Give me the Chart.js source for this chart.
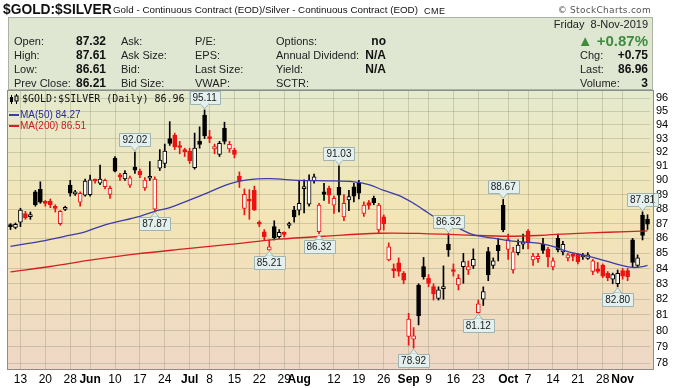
<!DOCTYPE html>
<html><head><meta charset="utf-8">
<script src="https://cdn.jsdelivr.net/npm/chart.js@4.4.1/dist/chart.umd.min.js"></script>
<style>
html,body{margin:0;padding:0;background:#fff;}
#wrap{position:relative;width:675px;height:388px;overflow:hidden;font-family:"Liberation Sans",Arial,sans-serif;}
#c{position:absolute;left:0;top:0;}
.t{position:absolute;white-space:nowrap;line-height:12px;}
.l{font-size:11px;color:#222;}
.v{font-size:12px;font-weight:bold;color:#111;}
#box{position:absolute;left:8px;top:17px;width:643px;height:71px;background:#dfe7d3;border:1px solid #aab3a2;}
.lg{position:absolute;white-space:nowrap;line-height:11px;}
</style></head><body>
<div id="wrap">
<canvas id="c" width="675" height="388"></canvas>
<div class="t" style="left:3px;top:2px;font-size:13.8px;font-weight:bold;line-height:16px;color:#111;">$GOLD:$SILVER</div>
<div class="t" style="left:113px;top:4px;font-size:9.8px;color:#111;">Gold - Continuous Contract (EOD)/Silver - Continuous Contract (EOD)</div>
<div class="t" style="left:424px;top:5px;font-size:9px;letter-spacing:0.5px;color:#111;">CME</div>
<div class="t" style="right:24px;top:4px;font-size:9px;letter-spacing:0.3px;color:#555;font-family:'DejaVu Sans',sans-serif;">© StockCharts.com</div>
<div id="box"></div>
<div class="t l" style="left:14px;top:35px;">Open:</div>
<div class="t l" style="left:14px;top:49px;">High:</div>
<div class="t l" style="left:14px;top:63px;">Low:</div>
<div class="t l" style="left:14px;top:77px;">Prev Close:</div>
<div class="t v" style="right:569px;top:35px;">87.32</div>
<div class="t v" style="right:569px;top:49px;">87.61</div>
<div class="t v" style="right:569px;top:63px;">86.61</div>
<div class="t v" style="right:569px;top:77px;">86.21</div>
<div class="t l" style="left:121px;top:35px;">Ask:</div>
<div class="t l" style="left:121px;top:49px;">Ask Size:</div>
<div class="t l" style="left:121px;top:63px;">Bid:</div>
<div class="t l" style="left:121px;top:77px;">Bid Size:</div>
<div class="t l" style="left:195px;top:35px;">P/E:</div>
<div class="t l" style="left:195px;top:49px;">EPS:</div>
<div class="t l" style="left:195px;top:63px;">Last Size:</div>
<div class="t l" style="left:195px;top:77px;">VWAP:</div>
<div class="t l" style="left:276px;top:35px;">Options:</div>
<div class="t l" style="left:276px;top:49px;">Annual Dividend:</div>
<div class="t l" style="left:276px;top:63px;">Yield:</div>
<div class="t l" style="left:276px;top:77px;">SCTR:</div>
<div class="t v" style="right:289px;top:35px;">no</div>
<div class="t v" style="right:289px;top:49px;">N/A</div>
<div class="t v" style="right:289px;top:63px;">N/A</div>
<div class="t l" style="right:27px;top:18px;">Friday&nbsp; 8-Nov-2019</div>
<div class="t" style="right:27px;top:33px;font-size:15px;line-height:15px;font-weight:bold;color:#3d8b3d;">▲ +0.87%</div>
<div class="t l" style="left:580px;top:49px;">Chg:</div>
<div class="t l" style="left:580px;top:63px;">Last:</div>
<div class="t l" style="left:580px;top:77px;">Volume:</div>
<div class="t v" style="right:27px;top:49px;">+0.75</div>
<div class="t v" style="right:27px;top:63px;">86.96</div>
<div class="t v" style="right:27px;top:77px;">3</div>
<svg style="position:absolute;left:9px;top:94px;" width="12" height="10" viewBox="0 0 12 10">
<rect x="1" y="3" width="3" height="5" fill="#000"/><rect x="2" y="1" width="1" height="9" fill="#000"/>
<rect x="6" y="2" width="3" height="5" fill="none" stroke="#000" stroke-width="1"/><rect x="7" y="0" width="1" height="2" fill="#000"/><rect x="7" y="7" width="1" height="3" fill="#000"/>
</svg>
<div class="lg" id="lg0" style="left:22px;top:93px;font-size:10px;color:#111;font-family:'DejaVu Sans Mono',monospace;"></div>
<div style="position:absolute;left:9px;top:114px;width:10px;height:2px;background:#3c3ca8;"></div>
<div class="lg" id="lg1" style="left:20px;top:109px;font-size:10px;color:#2a2a9a;"></div>
<div style="position:absolute;left:9px;top:125px;width:10px;height:2px;background:#d42020;"></div>
<div class="lg" id="lg2" style="left:20px;top:120px;font-size:10px;color:#c81e1e;"></div>
</div>
<script>
// ---- categories (trading days) ----
const dates = [
'2019-05-09','2019-05-10','2019-05-13','2019-05-14','2019-05-15','2019-05-16','2019-05-17','2019-05-20','2019-05-21','2019-05-22','2019-05-23','2019-05-24','2019-05-28','2019-05-29','2019-05-30','2019-05-31',
'2019-06-03','2019-06-04','2019-06-05','2019-06-06','2019-06-07','2019-06-10','2019-06-11','2019-06-12','2019-06-13','2019-06-14','2019-06-17','2019-06-18','2019-06-19','2019-06-20','2019-06-21','2019-06-24','2019-06-25','2019-06-26','2019-06-27','2019-06-28',
'2019-07-01','2019-07-02','2019-07-03','2019-07-05','2019-07-08','2019-07-09','2019-07-10','2019-07-11','2019-07-12','2019-07-15','2019-07-16','2019-07-17','2019-07-18','2019-07-19','2019-07-22','2019-07-23','2019-07-24','2019-07-25','2019-07-26','2019-07-29','2019-07-30','2019-07-31',
'2019-08-01','2019-08-02','2019-08-05','2019-08-06','2019-08-07','2019-08-08','2019-08-09','2019-08-12','2019-08-13','2019-08-14','2019-08-15','2019-08-16','2019-08-19','2019-08-20','2019-08-21','2019-08-22','2019-08-23','2019-08-26','2019-08-27','2019-08-28','2019-08-29','2019-08-30',
'2019-09-03','2019-09-04','2019-09-05','2019-09-06','2019-09-09','2019-09-10','2019-09-11','2019-09-12','2019-09-13','2019-09-16','2019-09-17','2019-09-18','2019-09-19','2019-09-20','2019-09-23','2019-09-24','2019-09-25','2019-09-26','2019-09-27','2019-09-30',
'2019-10-01','2019-10-02','2019-10-03','2019-10-04','2019-10-07','2019-10-08','2019-10-09','2019-10-10','2019-10-11','2019-10-14','2019-10-15','2019-10-16','2019-10-17','2019-10-18','2019-10-21','2019-10-22','2019-10-23','2019-10-24','2019-10-25','2019-10-28','2019-10-29','2019-10-30','2019-10-31',
'2019-11-01','2019-11-04','2019-11-05','2019-11-06','2019-11-07','2019-11-08'];

// ---- OHLC values ----
const open = [
86.85,86.75,87.1,87.7,87.48,89.2,89.37,88.45,88.56,88.1,87.0,87.98,89.67,89.05,88.48,88.97,
89.0,90.0,89.8,89.56,89.02,91.57,90.3,90.1,89.67,90.94,90.66,89.48,90.15,88.0,90.86,91.2,93.0,93.26,92.4,92.1,
92.1,90.9,92.82,94.73,93.05,92.25,91.86,93.74,92.25,92.17,90.31,88.05,88.62,89.3,87.0,86.45,85.23,86.8,86.12,86.32,86.88,87.93,
87.93,89.42,88.34,89.96,86.45,89.2,89.44,88.28,89.51,87.47,88.63,89.55,89.83,87.7,88.45,88.74,86.57,87.47,84.56,84.0,84.38,83.68,
79.64,79.47,82.92,84.12,83.35,82.81,82.06,82.68,85.62,83.85,82.92,84.12,83.9,84.17,81.14,82.0,85.12,84.2,85.56,88.28,
85.27,83.9,85.05,85.62,86.5,84.56,84.65,85.6,85.27,84.1,86.0,85.1,84.7,84.88,84.93,84.76,84.67,83.8,83.97,84.23,83.68,83.3,83.0,
83.86,83.86,85.9,84.2,87.59,87.32];
const high = [
87.0,87.05,88.06,87.85,87.8,89.3,89.9,88.6,88.7,88.3,87.9,88.2,90.0,89.3,89.2,90.1,
90.38,90.1,91.09,90.1,89.6,91.7,90.5,90.7,90.3,92.02,90.8,90.2,91.33,90.25,92.2,92.6,94.24,93.4,92.8,92.3,
92.3,93.4,93.86,95.11,93.6,92.6,92.8,94.2,92.8,92.3,90.6,89.4,89.35,89.6,87.2,86.6,85.9,87.2,86.6,86.45,87.1,88.2,
90.0,90.05,90.4,90.45,88.4,89.8,89.6,88.9,91.03,89.0,89.3,89.8,90.0,88.5,88.6,88.9,88.4,87.6,85.7,84.3,84.7,83.8,
81.1,80.2,83.0,84.73,83.6,83.0,82.8,84.17,86.32,84.3,83.6,85.0,84.5,85.3,81.95,82.8,85.4,84.7,86.0,88.67,
86.3,85.4,85.9,86.3,86.6,85.0,85.0,86.0,85.4,84.7,86.3,85.8,85.0,85.0,85.0,85.0,85.05,84.6,84.4,84.3,83.8,83.7,83.9,
84.0,84.0,86.0,84.9,87.81,87.61];
const low = [
86.6,86.65,86.8,87.3,87.3,88.2,88.4,88.2,88.1,87.8,86.9,87.9,88.9,88.95,88.2,88.9,
88.9,89.8,89.7,89.4,88.74,90.6,90.0,90.0,89.5,90.5,90.2,89.3,90.0,87.87,90.7,90.9,92.5,92.2,91.9,91.7,
91.2,90.8,92.3,93.0,92.7,91.9,91.7,92.6,92.0,91.6,89.5,87.6,87.3,87.9,86.8,85.9,85.21,85.9,86.0,86.1,86.7,87.1,
87.6,87.73,88.2,89.8,86.32,88.6,88.4,87.7,87.8,87.2,87.9,88.5,88.7,87.5,88.0,88.3,86.4,86.57,84.5,83.4,83.5,83.0,
79.1,78.92,80.37,83.3,82.8,81.95,81.95,82.0,84.8,83.5,82.6,83.03,83.6,84.0,81.12,81.6,83.2,84.0,84.5,86.45,
84.6,83.7,84.9,85.3,85.3,84.2,84.4,85.0,84.1,83.9,85.1,84.9,84.5,84.5,84.3,84.6,84.6,83.6,83.7,83.4,83.2,83.0,82.8,
83.3,83.2,84.1,84.1,85.9,86.61];
const close = [
86.8,86.95,87.93,87.4,87.55,88.3,88.48,88.4,88.3,88.05,87.84,88.05,89.1,89.2,89.09,89.96,
90.05,89.96,90.1,90.0,89.44,90.65,90.25,90.5,90.19,90.73,90.38,90.03,90.2,90.1,91.45,92.1,92.65,92.4,92.35,92.05,
91.4,92.3,92.58,93.2,93.0,92.42,92.65,92.8,92.58,91.86,89.96,89.02,88.55,87.95,86.96,86.12,85.44,86.05,86.41,86.28,86.93,87.47,
88.4,89.48,90.03,90.26,88.28,89.02,88.97,88.74,88.97,88.4,88.86,88.9,89.1,88.28,88.25,88.45,88.28,87.0,85.44,83.85,83.8,83.24,
80.73,79.68,80.94,83.46,83.03,82.34,82.6,82.81,85.23,83.8,83.35,84.45,84.12,84.6,81.7,82.5,83.57,84.5,85.18,86.57,
85.93,85.1,85.56,85.77,85.7,84.82,84.8,85.2,84.74,84.5,85.23,85.6,84.9,84.8,84.45,84.82,84.9,84.5,83.8,83.5,83.4,83.6,83.68,
83.5,83.46,84.4,84.7,86.21,86.96];

// ---- moving averages (sparse readings) ----
const ma50Dates = ['2019-05-09','2019-05-17','2019-05-28','2019-05-31','2019-06-06','2019-06-17','2019-06-20','2019-06-25','2019-07-03','2019-07-12','2019-07-18','2019-07-24','2019-08-01','2019-08-09','2019-08-16','2019-08-21','2019-08-26','2019-08-29','2019-09-04','2019-09-06','2019-09-11','2019-09-17','2019-09-20','2019-09-26','2019-10-02','2019-10-09','2019-10-14','2019-10-17','2019-10-22','2019-10-28','2019-10-31','2019-11-05','2019-11-07','2019-11-08'];
const ma50 = [85.47,85.8,86.22,86.45,86.92,87.5,87.85,88.1,88.9,89.75,90.05,90.12,90.0,89.97,89.9,89.7,89.3,88.95,88.4,87.95,87.3,86.7,86.25,86.02,85.82,85.68,85.46,85.12,84.9,84.56,84.27,84.07,84.12,84.2];
const ma50Last = 84.27;
const ma200Dates = ['2019-05-09','2019-05-21','2019-06-03','2019-06-14','2019-06-28','2019-07-12','2019-07-26','2019-08-08','2019-08-23','2019-09-06','2019-09-19','2019-10-01','2019-10-09','2019-10-18','2019-10-29','2019-11-08'];
const ma200 = [83.78,84.13,84.55,84.95,85.3,85.6,85.95,86.15,86.35,86.33,86.22,86.15,86.2,86.33,86.42,86.51];
const ma200Last = 86.51;

// ---- axis ticks ----
const tickDates = ['2019-05-13','2019-05-20','2019-05-28','2019-06-03','2019-06-10','2019-06-17','2019-06-24','2019-07-01','2019-07-08','2019-07-15','2019-07-22','2019-07-29','2019-08-01','2019-08-12','2019-08-19','2019-08-26','2019-09-03','2019-09-09','2019-09-16','2019-09-23','2019-10-01','2019-10-07','2019-10-14','2019-10-21','2019-10-28','2019-11-01'];
const tickLabels = ['13','20','28','Jun','10','17','24','Jul','8','15','22','29','Aug','12','19','26','Sep','9','16','23','Oct','7','14','21','28','Nov'];
const monthLabels = ['Jun','Jul','Aug','Sep','Oct','Nov'];
const yTicks = [78,79,80,81,82,83,84,85,86,87,88,89,90,91,92,93,94,95,96];

// ---- labelled extremes ----
const callouts = [['2019-06-14','high'],['2019-06-20','low'],['2019-07-05','high'],['2019-07-24','low'],['2019-08-07','low'],['2019-08-13','high'],['2019-09-04','low'],['2019-09-13','high'],['2019-09-23','low'],['2019-09-30','high'],['2019-10-31','low'],['2019-11-07','high']];

document.getElementById('lg0').textContent = '$GOLD:$SILVER (Daily) ' + close[close.length-1].toFixed(2);
document.getElementById('lg1').textContent = 'MA(50) ' + ma50Last.toFixed(2);
document.getElementById('lg2').textContent = 'MA(200) ' + ma200Last.toFixed(2);

const BLACK = '#000000', RED = '#ee1111', HOLLOW = '#fdfcf4';
const upColor = dates.map((d,i)=> (i===0 || close[i] >= close[i-1]) ? BLACK : RED);
const bodyFill = dates.map((d,i)=> close[i] > open[i] ? HOLLOW : upColor[i]);

const tickIdx = tickDates.map(d=>dates.indexOf(d));
const tickMap = {}; tickIdx.forEach((ix,k)=>{ tickMap[ix] = tickLabels[k]; });
const gridCol = 'rgba(140,140,110,0.33)';
const FONT = '"Liberation Sans", Arial, sans-serif';

const bgPlugin = {
  id:'bg',
  beforeDraw(chart){
    const {ctx, chartArea:a} = chart;
    const g = ctx.createLinearGradient(0,a.top,0,a.bottom);
    g.addColorStop(0,'#e5eace'); g.addColorStop(0.45,'#f3e5b6'); g.addColorStop(1,'#eed7c6');
    ctx.save(); ctx.fillStyle = g; ctx.fillRect(a.left, a.top, a.right-a.left+3, a.bottom-a.top); ctx.restore();
  },
  afterDraw(chart){
    const {ctx, chartArea:a} = chart;
    ctx.save(); ctx.strokeStyle = '#8c8c8c'; ctx.lineWidth = 1;
    ctx.strokeRect(Math.round(a.left)-0.5, Math.round(a.top)-0.5, Math.round(a.right-a.left)+4, Math.round(a.bottom-a.top)+1);
    ctx.restore();
  }
};

const calloutPlugin = {
  id:'callouts',
  afterDatasetsDraw(chart){
    const {ctx} = chart; const xs = chart.scales.x, ys = chart.scales.y;
    ctx.save();
    ctx.font = '10px ' + FONT; ctx.textAlign='center'; ctx.textBaseline='middle';
    callouts.forEach(([d,kind])=>{
      const i = dates.indexOf(d); const v = kind==='high' ? high[i] : low[i];
      const x = xs.getPixelForValue(i), y = ys.getPixelForValue(v);
      const txt = v.toFixed(2); const w = Math.round(ctx.measureText(txt).width) + 6, h = 13;
      const dir = kind==='high' ? -1 : 1;
      const tip = y + dir*1, base = y + dir*6;
      const bx = Math.round(x - w/2) + 0.5, by = kind==='high' ? Math.round(base - h) + 0.5 : Math.round(base) + 0.5;
      ctx.fillStyle = '#e3f0ee'; ctx.strokeStyle = '#9fb3b0'; ctx.lineWidth = 1;
      ctx.beginPath();
      ctx.rect(bx, by, w, h); ctx.fill(); ctx.stroke();
      ctx.beginPath(); ctx.moveTo(x-4, base); ctx.lineTo(x, tip); ctx.lineTo(x+4, base); ctx.closePath();
      ctx.fill(); ctx.stroke();
      ctx.fillStyle = '#e3f0ee'; ctx.fillRect(x-3.5, kind==='high'? by+h-1.5 : by-0.5, 7, 2);
      ctx.fillStyle = '#1a1a1a'; ctx.fillText(txt, x, by + h/2 + 0.5);
    });
    ctx.restore();
  }
};

new Chart(document.getElementById('c'), {
  type:'bar',
  data:{
    labels: dates,
    datasets:[
      {type:'line', data: ma50Dates.map((d,k)=>({x:d, y:ma50[k]})), borderColor:'#3c3ca8', borderWidth:1.3, pointRadius:0, tension:0.35, order:0},
      {type:'line', data: ma200Dates.map((d,k)=>({x:d, y:ma200[k]})), borderColor:'#d42020', borderWidth:1.3, pointRadius:0, tension:0.35, order:0},
      {type:'bar', data: dates.map((d,i)=>[open[i], close[i]]), backgroundColor: bodyFill, borderColor: upColor, borderWidth:1, borderSkipped:false, barThickness:4, grouped:false, minBarLength:2, order:1},
      {type:'bar', data: dates.map((d,i)=>[low[i], high[i]]), backgroundColor: upColor, borderWidth:0, barThickness:1, grouped:false, order:2}
    ]
  },
  options:{
    responsive:false, animation:false, devicePixelRatio:1,
    layout:{padding:{left:8, top:91, right:0, bottom:0}},
    plugins:{legend:{display:false}, tooltip:{enabled:false}},
    scales:{
      x:{
        type:'category', offset:true,
        grid:{offset:false, color:gridCol, drawTicks:false},
        border:{display:false},
        ticks:{autoSkip:false, maxRotation:0, minRotation:0, padding:3, color:'#000',
          font:(c)=>({family:FONT, size:12, weight: (c.tick && monthLabels.includes(c.tick.label)) ? 'bold' : 'normal'}),
          callback:(v)=> tickMap[v] !== undefined ? tickMap[v] : ''},
        afterBuildTicks:(s)=>{ s.ticks = tickIdx.map(i=>({value:i})); },
        afterFit:(s)=>{ s.height = 19; }
      },
      y:{
        type:'logarithmic', position:'right', min:77.64, max:96.53,
        grid:{color:gridCol, drawTicks:false},
        border:{display:false},
        ticks:{padding:6, color:'#000', font:{family:FONT, size:11}, autoSkip:false, callback:(v)=>String(v)},
        afterBuildTicks:(s)=>{ s.ticks = yTicks.map(v=>({value:v})); },
        afterFit:(s)=>{ s.width = 25; }
      }
    }
  },
  plugins:[bgPlugin, calloutPlugin]
});
</script>
</body></html>
